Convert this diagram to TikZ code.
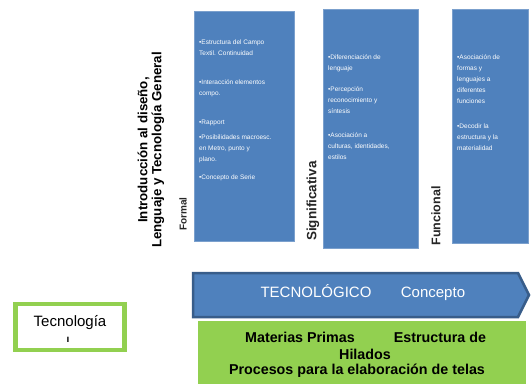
\documentclass[tikz,border=0pt]{standalone}
\usepackage{fontspec}
\setmainfont{Liberation Sans}
\definecolor{boxblue}{HTML}{4F81BD}
\definecolor{edgeblue}{HTML}{385D8A}
\definecolor{limegreen}{HTML}{92D050}
\begin{document}
\begin{tikzpicture}[x=1pt,y=-1pt,
  panel/.style={fill=boxblue, draw=boxblue!75!white, line width=0.6pt, anchor=north west, inner sep=0pt},
  bullet/.style={anchor=north west, align=left, text=white, font=\fontsize{6.5}{11}\selectfont, inner sep=0pt},
  facet/.style={rotate=90, font=\bfseries\fontsize{10}{12}\selectfont, text=black!85, inner sep=0pt},
  bandtext/.style={anchor=base, text=white, font=\fontsize{15}{18}\selectfont, inner sep=0pt},
  basetext/.style={text=black, font=\bfseries\fontsize{14.3}{17}\selectfont, inner sep=0pt},
]
\useasboundingbox (0,0) rectangle (531,384);
\fill[white] (0,0) rectangle (531,384);

% blue panels
\node[panel, minimum width=100pt, minimum height=230pt] (p1) at (194,11) {};
\node[panel, minimum width=95pt, minimum height=239pt] (p2) at (323,9) {};
\node[panel, minimum width=76pt, minimum height=234pt] (p3) at (452,9) {};

% panel 1 text
\node[bullet] (b11) at (199,39.5) {•Estructura del Campo\\Textil. Continuidad};
\node[bullet] (b12) at (199,79.5) {•Interacción elementos\\compo.};
\node[bullet] (b13) at (199,120) {•Rapport};
\node[bullet] (b14) at (199,135) {•Posibilidades macroesc.\\en Metro, punto y\\plano.};
\node[bullet] (b15) at (199,175) {•Concepto de Serie};

% panel 2 text
\node[bullet] (b21) at (328,54.5) {•Diferenciación de\\lenguaje};
\node[bullet] (b22) at (328,86.5) {•Percepción\\reconocimiento y\\síntesis};
\node[bullet] (b23) at (328,132.5) {•Asociación a\\culturas, identidades,\\estilos};

% panel 3 text
\node[bullet] (b31) at (457,54.5) {•Asociación de\\formas y\\lenguajes a\\diferentes\\funciones};
\node[bullet] (b32) at (457,123.5) {•Decodir la\\estructura y la\\materialidad};

% title and facet labels
\node[rotate=90, align=center, font=\bfseries\fontsize{13.3}{14}\selectfont, inner sep=0pt] (title) at (151,150)
  {Introducción al diseño,\\Lenguaje y Tecnología General};
\node[facet] (formal) at (183,214) {Formal};
\node[facet, font=\bfseries\fontsize{13.5}{15}\selectfont] (signif) at (313,201) {Significativa};
\node[facet, font=\bfseries\fontsize{12.5}{14}\selectfont] (func) at (436,216) {Funcional};

% arrow band
\path[fill=boxblue, draw=edgeblue, line width=2.5pt, line join=miter]
  (193,273) -- (518,273) -- (529,295) -- (518,317) -- (193,317) -- cycle;
\node[bandtext] (tec) at (316,297.5) {TECNOLÓGICO};
\node[bandtext] (conc) at (433,297.5) {Concepto};

% green base
\node[fill=limegreen, anchor=north west, minimum width=328pt, minimum height=63pt, inner sep=0pt] (base) at (198,321) {};
\node[basetext] (mp) at (300,337) {Materias Primas};
\node[basetext] (ed) at (440,337) {Estructura de};
\node[basetext] (hil) at (365,354) {Hilados};
\node[basetext] (proc) at (357,371) {Procesos para la elaboración de telas};

% Tecnologia box
\node[draw=limegreen, line width=4.5pt, fill=white, minimum width=109pt, minimum height=46pt, inner sep=0pt] (tbox) at (70,327) {};
\node[font=\fontsize{15}{18}\selectfont, inner sep=0pt] (tname) at (70,323) {Tecnología};
\node[font=\bfseries\fontsize{10}{12}\selectfont, inner sep=0pt] (tmark) at (68,340) {ı};
\end{tikzpicture}
\end{document}
